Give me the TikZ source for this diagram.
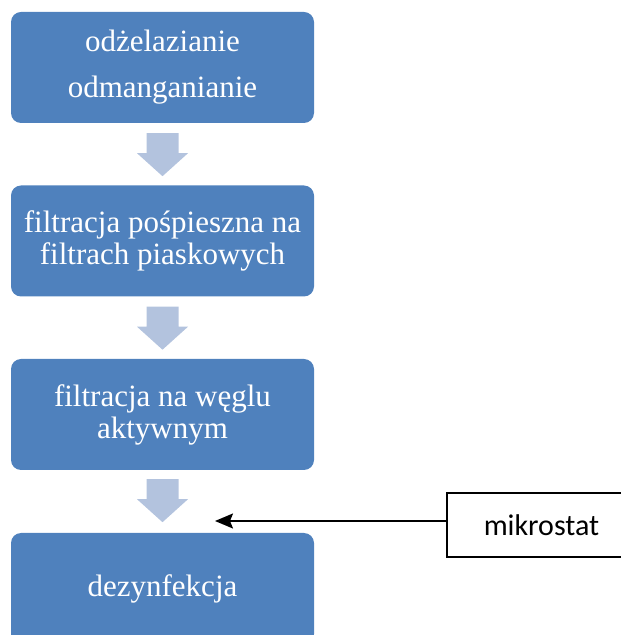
\documentclass[tikz,border=0pt]{standalone}
\usepackage{fontspec}
\setmainfont{Liberation Serif}
\newfontfamily\calib{Carlito}
\usepackage{tikz}
\usetikzlibrary{arrows.meta}
\definecolor{box_blue}{HTML}{4F81BD}
\definecolor{arr_blue}{HTML}{B3C3DE}

\tikzset{
    stage/.style={fill=box_blue, rounded corners=10pt, text=white, align=center,
        minimum width=303pt, minimum height=111pt, inner sep=0pt,
        font=\fontsize{31}{32}\selectfont},
    flowdown/.pic={
        \fill[arr_blue] (-16,0) -- (16,0) -- (16,-20) -- (25.5,-20)
            -- (0,-43) -- (-25.5,-20) -- (-16,-20) -- cycle;
    }
}

\begin{document}
\begin{tikzpicture}[x=1pt, y=1pt]
            \useasboundingbox (0,0) rectangle (621,635);
            \clip (0,0) rectangle (621,635);

            \node[stage, font=\fontsize{31}{46}\selectfont] (s1) at (162.5, 567.5) {od\.zelazianie\\odmanganianie};
            \node[stage] (s2) at (162.5, 394) {filtracja po\'spieszna na\\filtrach piaskowych};
            \node[stage] (s3) at (162.5, 220.5) {filtracja na w\k{e}glu\\aktywnym};
            \node[stage] (s4) at (162.5, 46.5) {dezynfekcja};

            % block arrows between the stages
            \pic at ([yshift=-10pt]s1.south) {flowdown};
            \pic at ([yshift=-10pt]s2.south) {flowdown};
            \pic at ([yshift=-9pt]s3.south) {flowdown};

            \node[draw, line width=2pt, minimum width=189pt, minimum height=64pt,
                inner sep=0pt, font=\calib\fontsize{30}{30}\selectfont] (m) at (541.5, 110) {mikrostat};
            \coordinate (tip) at (215, 114);

            \draw[line width=1.8pt, -{Stealth[length=18pt, width=15pt, inset=3pt]}] (m.west |- tip) -- (tip);

        \end{tikzpicture}
\end{document}
